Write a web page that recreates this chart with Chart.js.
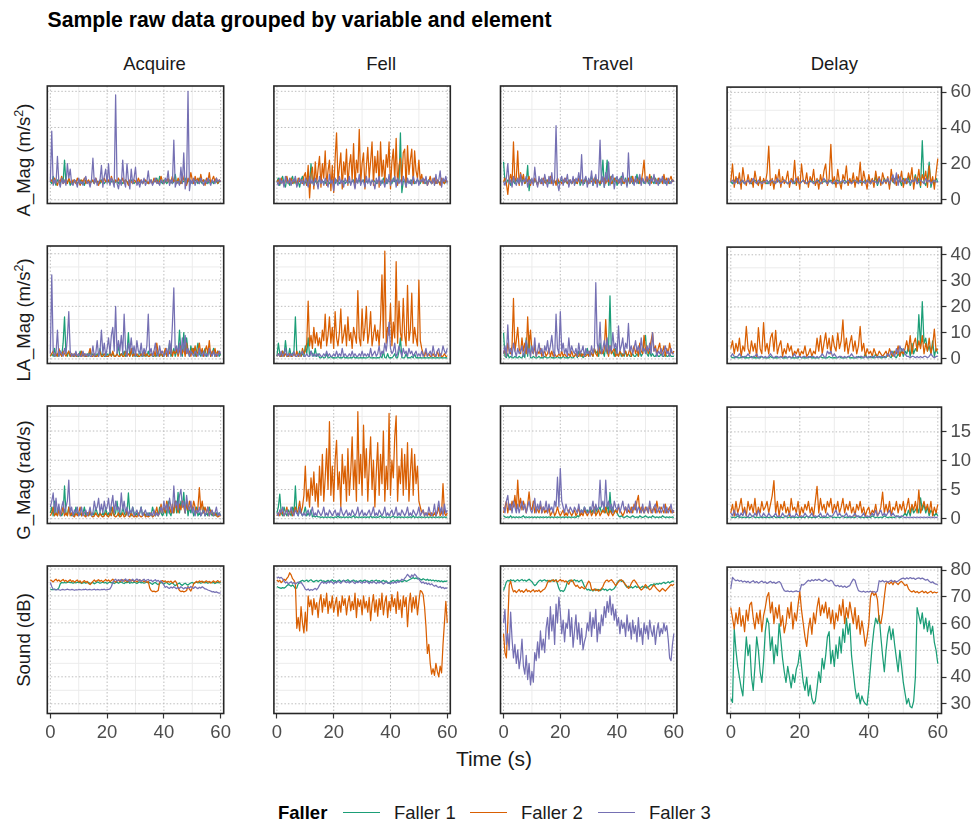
<!DOCTYPE html>
<html>
<head>
<meta charset="utf-8">
<script src="https://cdn.jsdelivr.net/npm/chart.js@4.4.0/dist/chart.umd.min.js"></script>
<style>
  body { margin: 0; background: #fff; }
  #wrap { position: relative; width: 975px; height: 820px; overflow: hidden; background: #fff;
          font-family: "Liberation Sans", Arial, Helvetica, sans-serif; }
  .t { position: absolute; line-height: 1; white-space: nowrap; color: #1a1a1a; }
  .t sup { font-size: 0.68em; line-height: 0; vertical-align: 0.55em; }
  canvas { position: absolute; }
  .swatch { position: absolute; height: 0; border-top: 1.6px solid; }
</style>
</head>
<body>
<div id="wrap"></div>
<script>
// facets
const ELEMENTS = ['Acquire', 'Fell', 'Travel', 'Delay'];
const VARIABLES = ['A_Mag', 'LA_Mag', 'G_Mag', 'Sound'];
const VARIABLE_TITLES = ['A_Mag (m/s<sup>2</sup>)', 'LA_Mag (m/s<sup>2</sup>)', 'G_Mag (rad/s)', 'Sound (dB)'];
const FALLERS = ['Faller 1', 'Faller 2', 'Faller 3'];
const FALLER_COLORS = ['#1b9e77', '#d95f02', '#7570b3'];

// axes
const X_TICKS = [0, 20, 40, 60];
const X_MINOR = [10, 30, 50];
const X_RANGE = [-1.07, 61.07];
const Y_TICKS = { A_Mag: [0, 20, 40, 60], LA_Mag: [0, 10, 20, 30, 40], G_Mag: [0, 5, 10, 15], Sound: [30, 40, 50, 60, 70, 80] };
const Y_MINOR = { A_Mag: [10, 30, 50], LA_Mag: [5, 15, 25, 35], G_Mag: [2.5, 7.5, 12.5, 17.5], Sound: [35, 45, 55, 65, 75] };
const Y_RANGE = { A_Mag: [-2.06, 62.94], LA_Mag: [-1.73, 42.95], G_Mag: [-0.82, 19.28], Sound: [26.4, 81.1] };

// samples every 0.5 s from 0 to 60 s
// A_Mag
const aMag_Acquire_F1 = [10,9,13,10,8,11,10,9,12,10,22,9,10,11,8,10,9,11,10,9,10,11,9,10,8,11,10,10,9,11,10,9,11,10,10,9,11,10,9,10,11,10,9,10,11,9,10,10,9,11,10,9,10,11,10,9,10,11,10,9,10,11,9,10,10,9,11,10,10,9,10,11,9,10,10,12,9,13,10,9,11,10,9,10,11,10,9,10,14,9,10,11,9,10,10,12,9,10,11,10,9,10,11,10,9,12,10,9,11,10,10,9,11,10,10,9,11,10,9,10,10];
const aMag_Acquire_F2 = [10,11,9,12,10,8,11,10,13,9,10,11,9,12,10,9,11,10,9,12,10,8,11,10,12,9,10,11,9,10,11,9,12,10,8,11,10,9,12,10,10,11,9,13,10,9,11,10,12,9,10,12,9,11,10,8,11,10,9,11,10,9,12,10,11,9,10,11,10,9,11,10,9,12,10,11,9,10,13,10,9,11,10,12,9,10,13,10,11,9,12,10,9,14,11,10,8,12,10,15,11,9,13,10,12,9,14,10,11,8,12,10,15,9,11,13,10,12,9,11,10];
const aMag_Acquire_F3 = [10,38,8,11,9,24,10,7,12,9,11,8,20,12,17,9,8,11,10,7,12,9,10,8,11,13,9,10,7,11,23,9,12,8,10,11,19,7,13,17,9,20,8,12,10,7,58,9,6,11,8,22,10,7,20,11,6,17,9,12,18,8,10,7,11,9,12,8,10,16,9,11,8,10,12,9,10,8,11,10,9,12,10,16,8,11,9,33,7,10,10,8,18,9,26,6,11,60,5,11,9,12,8,11,10,9,12,10,8,11,9,12,10,8,11,10,9,12,10,11,10];
const aMag_Fell_F1 = [10,12,8,11,13,9,7,12,10,8,11,13,9,12,8,10,7,11,13,9,10,8,12,9,20,10,8,11,9,10,11,9,10,10,9,11,10,9,10,11,10,9,11,10,9,10,11,10,9,10,11,10,9,10,11,9,10,10,11,9,10,11,9,10,10,11,9,10,11,10,9,10,11,10,9,12,10,9,11,10,10,9,12,10,11,9,10,37,4,10,11,9,10,10,9,11,10,9,10,11,10,9,11,10,10,9,10,11,10,9,10,11,9,10,10,9,11,10,9,10,10];
const aMag_Fell_F2 = [10,11,9,12,10,8,11,13,9,10,12,9,11,10,8,12,10,11,9,13,15,8,19,1,14,18,6,21,9,17,24,7,20,12,27,8,16,22,5,19,4,23,37,10,18,26,6,21,14,28,8,19,25,11,31,7,22,15,39,9,20,26,6,18,29,12,21,32,8,24,15,27,7,32,13,22,9,25,18,32,6,21,28,11,34,8,19,23,10,26,28,7,30,14,22,28,9,27,16,12,22,10,14,9,11,12,8,10,13,9,10,12,9,11,10,8,12,10,9,11,10];
const aMag_Fell_F3 = [10,8,12,9,11,7,13,10,9,12,8,11,10,13,7,10,12,9,11,8,12,10,7,13,9,11,8,12,10,6,13,9,11,8,12,10,7,14,9,11,5,12,10,8,13,9,11,7,12,10,9,13,8,11,10,6,12,9,14,8,11,10,7,13,9,12,8,11,10,6,12,9,13,8,11,10,7,12,9,14,8,11,10,13,7,12,9,11,8,13,10,7,12,9,11,8,13,10,9,12,8,11,10,12,9,13,8,11,10,9,12,8,14,9,11,16,7,12,10,13,9];
const aMag_Travel_F1 = [21,10,9,11,10,8,12,10,9,11,10,9,11,10,12,9,10,19,5,11,10,9,11,10,9,10,11,10,9,10,11,10,9,10,11,9,10,10,11,9,10,11,9,10,10,9,11,10,9,10,11,9,10,12,8,10,11,9,12,10,9,11,13,8,10,12,9,11,8,12,22,7,12,22,8,11,13,9,10,12,8,11,10,13,9,10,12,8,11,10,13,9,11,10,14,9,12,10,11,9,10,12,9,11,13,10,9,12,10,11,9,11,10,12,9,10,11,9,10,11,10];
const aMag_Travel_F2 = [10,12,9,3,11,14,9,32,10,12,27,8,15,11,14,9,12,10,13,8,11,9,12,10,8,11,10,9,12,10,9,11,10,13,9,10,11,8,12,10,10,9,11,10,12,9,10,11,9,10,11,10,9,12,10,11,9,10,11,10,9,11,10,10,12,9,11,10,9,11,10,12,9,11,10,13,9,10,12,10,11,9,10,12,10,9,11,10,12,9,10,13,9,11,10,12,9,10,15,22,9,12,10,14,9,11,13,10,9,12,10,11,9,14,10,12,9,11,13,10,11];
const aMag_Travel_F3 = [10,8,12,20,9,11,7,13,10,8,12,9,14,8,11,10,13,7,11,9,12,8,18,10,7,13,9,12,8,14,10,7,13,9,15,8,12,41,9,5,11,13,8,12,10,14,7,11,9,13,8,12,10,15,9,25,8,11,13,7,12,9,16,8,11,14,7,12,33,9,13,7,15,10,21,8,12,14,6,11,13,9,12,8,15,10,11,7,26,9,12,10,8,13,9,11,14,8,12,10,9,13,11,8,12,10,14,9,11,8,12,10,13,9,11,8,12,10,9,11,10];
const aMag_Delay_F1 = [10,9,11,10,10,9,11,10,9,10,11,10,9,10,11,10,9,10,10,11,10,9,10,11,10,9,10,10,11,9,10,11,10,9,10,10,11,9,10,10,9,10,11,10,9,10,10,11,10,9,10,11,9,10,10,11,9,10,11,10,9,10,11,10,9,10,11,10,9,10,10,11,9,10,11,10,9,10,11,10,12,9,11,10,13,8,11,10,9,12,10,11,8,12,10,9,13,10,11,8,12,10,9,13,8,11,10,14,9,12,7,33,10,8,12,21,7,11,9,12,10];
const aMag_Delay_F2 = [10,20,7,13,9,15,6,18,11,8,14,9,12,7,16,10,8,13,6,12,9,15,30,8,12,6,14,10,17,7,13,9,11,16,7,12,10,22,8,13,6,20,11,9,15,7,13,10,17,8,12,6,14,9,16,20,8,12,31,9,13,7,17,10,6,14,11,19,8,12,9,15,7,13,10,21,8,16,11,6,14,9,12,7,16,10,13,8,15,11,9,13,6,17,10,12,8,14,10,16,7,12,9,15,11,18,6,13,10,17,8,14,11,16,7,19,9,13,6,15,23];
const aMag_Delay_F3 = [10,11,9,10,12,9,10,11,9,10,11,9,10,12,10,9,11,10,9,10,10,11,9,10,11,10,9,12,10,9,10,11,10,9,10,11,9,10,12,10,9,10,11,10,9,10,11,10,9,10,11,10,9,10,12,10,9,11,10,9,10,11,9,10,10,11,9,10,11,10,9,10,11,10,9,11,10,10,9,11,10,9,11,10,10,9,12,10,9,11,10,12,9,11,14,9,15,8,13,10,11,9,12,10,9,11,10,12,9,10,11,10,9,12,10,11,9,10,11,10,10];

// LA_Mag
const laMag_Acquire_F1 = [1,2,1,4,1,2,1,3,1,6,16,2,1,3,1,2,1,1,2,1,1,3,1,2,1,1,2,1,3,1,2,1,1,2,1,4,1,2,1,1,2,1,3,1,2,1,1,2,5,1,2,1,3,1,2,10,1,2,4,1,2,1,1,3,1,2,1,2,1,3,1,2,1,1,2,1,3,1,2,1,1,3,1,2,6,1,2,4,1,3,2,11,3,1,10,2,8,3,1,5,2,4,1,3,6,2,1,3,2,4,1,2,3,1,2,4,1,2,3,1,2];
const laMag_Acquire_F2 = [1,2,3,1,2,1,4,2,1,3,2,1,2,3,1,2,1,2,1,1,2,1,3,1,2,1,1,2,4,1,1,2,1,1,2,3,1,1,2,1,1,1,2,1,3,1,1,2,1,1,2,1,1,3,1,2,1,4,1,2,1,2,1,1,2,1,3,1,2,1,1,2,1,3,1,6,2,1,3,1,2,4,1,3,2,5,1,3,2,4,1,3,5,2,4,1,6,2,3,1,4,2,5,1,3,6,2,4,1,3,5,2,7,1,3,2,4,1,3,2,2];
const laMag_Acquire_F3 = [2,32,3,1,2,11,1,3,2,1,4,2,8,18,3,1,2,1,3,1,2,1,1,3,1,2,1,2,1,1,5,1,2,7,1,3,11,2,6,1,4,8,2,9,12,3,20,2,7,3,9,2,17,4,1,6,3,8,2,5,1,7,3,2,6,1,4,2,5,17,2,4,1,3,6,2,1,5,2,3,1,2,4,1,7,2,13,27,3,5,2,6,1,8,3,9,2,4,1,3,2,1,3,2,1,4,2,1,3,1,2,1,4,2,1,3,1,2,1,3,2];
const laMag_Fell_F1 = [1,6,2,1,3,1,7,2,1,4,1,2,3,16,2,1,3,1,2,1,5,2,8,1,3,2,1,4,1,2,0.5,0.4,1,0.4,0.5,2,0.4,0.5,1,0.4,0.5,0.4,0.4,1,0.4,0.5,0.4,1,0.4,0.5,0.4,0.4,0.5,0.4,1,0.4,0.5,0.4,0.4,0.5,0.4,0.5,0.4,0.4,0.5,1,0.4,0.4,0.5,0.4,0.4,0.5,0.4,1,0.4,3,0.5,0.4,2,0.4,0.5,0.4,1,2,0.4,0.5,3,8,0.5,0.4,0.5,2,0.4,0.5,0.4,1,0.4,2,0.4,0.5,0.4,0.5,0.4,0.4,0.5,0.4,0.4,0.5,0.4,0.4,0.5,0.4,0.4,0.5,0.4,0.4,0.5,0.4,0.4,0.5,0.4];
const laMag_Fell_F2 = [1,2,1,1,3,1,2,1,1,2,1,1,2,1,3,1,2,1,4,2,3,6,22,5,9,4,12,6,10,5,8,4,11,7,17,5,9,16,6,12,4,18,8,5,10,19,6,9,13,5,16,7,10,4,12,9,6,26,8,5,19,7,12,20,6,10,18,5,9,13,7,11,5,15,32,8,41,6,12,9,21,5,14,8,37,6,22,10,7,23,9,5,28,7,11,25,6,12,8,5,30,7,4,2,1,3,1,2,1,1,2,1,1,3,1,2,1,1,2,1,1];
const laMag_Fell_F3 = [1,2,1,3,1,2,4,1,2,1,2,1,3,1,1,2,1,2,3,1,1,2,1,1,3,1,2,1,2,1,2,1,1,2,1,3,1,2,1,1,2,1,3,1,2,1,4,1,2,1,1,2,1,3,1,2,1,1,2,1,3,1,2,1,2,1,4,1,2,3,1,2,5,1,3,2,6,3,8,14,4,2,3,6,1,2,5,3,1,4,2,3,1,4,2,3,1,2,3,1,2,1,3,1,2,4,1,2,3,1,5,2,1,3,4,1,2,5,3,2,4];
const laMag_Travel_F1 = [10,1,0.5,2,0.4,1,0.5,0.4,1,0.5,0.4,1,0.5,0.4,2,0.5,8,1,9,0.5,0.4,1,0.5,0.4,0.5,1,0.4,0.5,0.4,1,0.5,0.4,0.5,1,0.4,0.5,0.4,0.5,1,0.4,0.5,0.4,1,0.5,0.4,0.5,0.4,1,0.5,0.4,1,2,0.5,3,1,2,0.5,1,2,4,1,3,2,1,4,2,3,1,6,2,3,1,5,2,4,24,2,3,1,4,2,1,3,1,2,1,3,1,2,1,1,2,1,1,2,1,3,1,2,6,9,2,1,3,1,2,1,1,2,1,1,2,1,1,2,1,1,2,1,1,1];
const laMag_Travel_F2 = [2,4,1,6,3,2,5,23,3,7,12,4,2,8,3,6,2,16,4,11,3,2,5,1,3,2,4,1,2,3,1,2,4,1,3,1,2,1,1,2,1,3,1,2,1,1,2,1,3,1,1,2,1,1,3,1,2,1,1,2,1,3,2,1,4,2,1,5,2,3,2,4,15,3,1,5,2,3,4,1,2,1,3,2,1,2,3,1,2,4,1,3,5,2,4,1,6,3,2,9,3,5,2,4,7,10,3,5,2,4,6,2,3,5,1,4,2,6,3,2,3];
const laMag_Travel_F3 = [2,5,1,13,2,4,1,6,3,1,4,2,3,5,1,3,7,2,4,1,5,2,8,1,3,6,2,4,1,5,3,7,2,5,9,3,1,17,4,2,18,3,6,2,4,1,8,2,5,3,2,4,1,6,2,3,5,1,4,2,3,1,5,2,4,29,6,3,14,2,4,7,3,8,2,5,3,10,4,6,2,12.6,3,5,8,2,6,4,13.5,3,5,2,4,7,3,5,2,8,3,4,2,5,3,6,2,10,3,4,1,3,2,4,1,3,5,2,3,1,4,2,2];
const laMag_Delay_F1 = [1,0.5,0.4,1,0.5,0.4,0.5,1,0.4,0.5,0.4,0.5,1,0.4,0.5,0.4,0.5,0.4,1,0.5,0.4,0.5,0.4,1,0.5,0.4,0.5,0.4,0.5,1,0.4,0.5,0.4,0.5,1,0.4,0.5,0.4,0.5,0.4,1,0.5,0.4,0.5,0.4,0.5,1,0.4,0.5,0.4,0.5,0.4,1,0.5,0.4,0.5,0.4,1,0.5,0.4,0.5,0.4,0.5,1,0.4,0.5,0.4,0.5,1,0.4,0.5,0.4,0.5,0.4,1,0.5,0.4,0.5,2,0.5,0.4,1,0.5,0.4,2,0.5,1,0.4,0.5,1,0.5,2,1,0.5,3,1,0.5,2,1,4,1,3,2,5,1,6,2,4,3,17,5,22,6,8,3,5,2,7,1,4,2];
const laMag_Delay_F2 = [4,7,2,6,3,8,1,5,3,12.5,4,2,7,3,6,1,12,4,2,14,3,6,2,8,10,3,11,2,5,7,1,4,2,6,3,5,1,3,2,4,1,3,2,5,1,2,4,1,3,2,8,3,9,2,6,10,4,8,2,9,5,3,10,4,7,15,3,8,2,6,9,3,7,2,5,12.5,3,6,1,4,2,3,1,4,2,1,3,2,1,2,3,1,4,2,1,3,2,5,1,3,2,4,7,3,9,2,6,8,3,7,4,9,2,6,3,8,2,5,11.5,3,4];
const laMag_Delay_F3 = [1,2,1,0.5,1,2,1,0.5,1,1,2,1,0.5,1,1,2,0.5,1,1,0.5,1,0.5,1,2,1,0.5,1,1,0.5,1,0.5,1,1,0.5,1,0.5,1,2,0.5,1,1,0.5,1,1,0.5,1,0.5,1,1,0.5,1,0.5,1,2,1,0.5,3,2,3,1,2,1,0.5,1,1,0.5,1,0.5,1,1,2,1,0.5,1,0.5,1,1,0.5,1,0.5,1,0.5,1,1,0.5,1,0.5,1,1,0.5,1,2,1,3,2,1,4,2,5,3,4,2,1,1,0.5,1,1,0.5,1,0.5,1,0.5,1,1,0.5,1,2,1,0.5,1,1];

// G_Mag
const gMag_Acquire_F1 = [1,2,0.5,3,1,0.5,2,1,0.5,1,5.6,1,0.5,2,1,0.5,1,0.5,2,1,0.5,1,0.5,1,2,0.5,1,0.5,1,0.5,1,0.5,2,1,0.5,1,0.5,1,0.5,2,0.5,1,0.5,2,1,0.5,1,3,0.5,1,0.5,2,1,0.5,1,4.4,1,0.5,2,1,0.5,1,0.5,1,2,0.5,1,0.5,1,0.5,1,0.5,2,1,0.5,1,0.5,2,1,0.5,1,2,0.5,3,1,0.5,2,1,3,1,4.5,1,3,2,4.5,1,3,0.5,2,1,2,0.5,1,2,0.5,1,0.5,1,2,0.5,1,0.5,2,1,0.5,1,0.5,1,0.5,1,0.5];
const gMag_Acquire_F2 = [0.5,1,2,0.5,1,0.5,1.5,0.5,1,2,0.5,1,0.5,2,0.5,1,0.5,0.3,1,0.5,1,2,0.5,1,0.5,0.3,1,0.5,1.5,0.5,0.3,0.5,1,0.5,0.3,1,0.5,0.3,0.5,1,0.5,0.3,1,0.5,2,0.5,0.3,0.5,1,0.3,0.5,1,0.3,0.5,1.5,0.5,0.3,1,0.5,0.3,0.5,0.3,1,0.5,0.3,0.5,1,0.3,0.5,0.3,0.5,1,0.3,0.5,1,2,0.5,1,2.5,1,2,1,3,1.5,2,1,2.5,1,3,2,1,2.5,1.5,3,2,1,2.5,1.5,3,2,1.5,3,2,1,2,5.3,1.5,3,1,2,1,2,0.5,1.5,1,0.5,1,0.5,0.3,0.5,0.5];
const gMag_Acquire_F3 = [2,3,4.4,1,3.5,1,2.5,0.5,2,3,1,2,3,6.6,1,2,0.5,1.5,1,2,0.5,1,2,0.5,1,1.5,0.5,1,2,0.5,1,3,1.5,2,3.5,1,2.5,1,3,1.5,2,3.5,1,2.5,4,1,3,1.5,2,1,4.4,1.5,3,1,2,0.5,1.5,1,2,0.5,1,1.5,0.5,1,2,0.5,1,1.5,0.5,1,0.5,1,0.5,1.5,0.5,1,0.5,1,2,1,3,1.5,2.5,1,3.5,2,1,5.6,2,3,1.5,4,5,2,3,1,4,2,1.5,3,1,2,0.5,1.5,1,2,0.5,1,1.5,0.5,1,2,0.5,1,1.5,0.5,1,2,0.5,1,0.5];
const gMag_Fell_F1 = [1,2,4.2,1,0.5,2,1,0.5,1.5,1,0.5,2,1,5.6,1,0.5,1.5,1,0.5,1,2,0.5,1,0.5,1.5,0.3,0.5,0.3,0.5,0.3,0.3,0.2,0.3,0.2,0.3,0.2,0.3,0.2,0.3,0.2,0.2,0.3,0.2,0.5,0.2,0.3,0.2,0.3,0.2,0.3,0.2,0.3,0.2,0.3,0.5,0.2,0.3,0.2,0.3,0.2,0.3,0.2,0.3,0.2,0.3,0.2,0.5,0.2,0.3,0.2,0.3,0.2,0.3,0.5,0.2,0.3,0.2,0.3,0.2,0.3,0.2,0.3,0.5,0.2,0.3,0.2,0.3,0.2,0.3,0.2,0.3,0.2,0.3,0.2,0.3,0.2,0.5,0.2,0.3,0.2,0.3,0.2,0.3,0.2,0.3,0.2,0.3,0.2,0.3,0.2,0.3,0.2,0.3,0.2,0.3,0.2,0.3,0.2,0.3,0.2,0.3];
const gMag_Fell_F2 = [0.5,1,0.5,1.5,1,0.5,1,2,0.5,1,1.5,0.5,1,2,1,1.5,3,1,2,4,9,3,5,2,7,4,8,3,6,2,9,4,11,3,7,12,5,16.6,4,9,3,10,13.4,5,8,2,11,6,9,3,12,4,8,14,5,10,3,18.3,6,11,4,16,7,12,3,9,14,5,10,2,8,13,4,11,6,15,3,9,5,18,4,10,7,14,17.6,3,9,6,12,4,11,5,13,3,8,12,4,11,6,9,3,2,1,1.5,0.5,1,0.5,1,0.5,1,0.5,1,0.5,1,2,0.5,1,6,1,0.5,1];
const gMag_Fell_F3 = [1,0.5,1.5,1,2,0.5,1,1.5,0.5,1,2,1,0.5,1.5,1,0.5,2,1,0.5,1,0.5,1,1.5,0.5,1,2,0.5,1,0.5,1.5,1,0.5,1,2,0.5,1,0.5,1.5,1,0.5,1,1.5,0.5,1,0.5,2,1,0.5,1,1.5,0.5,1,0.5,1.5,1,0.5,1,2,0.5,1,1.5,0.5,1,0.5,1,1.5,0.5,1,2,0.5,1,0.5,1.5,1,0.5,1,2,0.5,1,0.5,1,1.5,0.5,1,2,0.5,1,0.5,1.5,1,0.5,1,2,0.5,1,0.5,1.5,1,0.5,1,2,0.5,1,1.5,0.5,1,0.5,2,1,0.5,1,2.5,0.5,1.5,3,1,2,0.5,2.5,1,1.5];
const gMag_Travel_F1 = [0.5,0.3,0.2,0.3,0.2,0.5,0.2,0.3,0.2,0.3,0.2,0.3,0.2,0.3,0.5,0.2,0.3,0.2,0.3,0.2,0.3,0.2,0.3,0.2,0.3,0.2,0.3,0.2,0.3,0.2,0.3,0.2,0.3,0.2,0.3,0.2,0.3,0.2,0.3,0.2,0.3,0.2,0.3,0.2,0.3,0.2,0.3,0.2,0.3,0.2,0.3,0.2,0.5,0.3,1,1.5,1,2,1,1.5,1,2,1,1.5,1,2,1,1.5,2,1,1.5,2,1,2.5,1,4.5,1,2,1,1.5,1,0.5,0.3,0.5,0.3,0.2,0.3,0.5,0.3,0.2,0.3,0.5,0.3,0.2,0.3,0.2,0.5,0.3,0.2,0.3,0.5,0.3,0.2,0.3,0.2,0.5,0.3,0.2,0.3,0.2,0.3,0.2,0.5,0.3,0.2,0.3,0.2,0.3,0.2,0.3,0.2];
const gMag_Travel_F2 = [1,2,3,1,2.5,1.5,3,2,4,1.5,6.6,2,3.5,1.5,3,2,1,2.5,4.6,2,1.5,3,1,2,1.5,1,2.5,1,2,1,1.5,1,2,0.5,1,1.5,0.5,1,2,1,0.5,1,1.5,0.5,1,0.5,1.5,1,0.5,1,1.5,0.5,1,2,0.5,1,0.5,1.5,1,0.5,1,1.5,0.5,1,2,0.5,1,1.5,0.5,1,1.5,1,2,1,0.5,1.5,1,0.5,1,1.5,1,2,1.5,1,0.5,1,2,1,1.5,1,2,1,2.5,1.5,3,4,1,2,1.5,1,2,1.5,1,2.5,1,1.5,2,1,3,1.5,1,2,1.5,1,2.5,1,1.5,2,1,1.5,1];
const gMag_Travel_F3 = [2,1,3,4,1.5,2.5,1,3,2,1,2.5,1,2,3,1.5,2.5,1,2,3,1.5,1,2,3.5,1,2.5,1.5,3,1,2,1.5,3,1,2.5,1.5,2,1,3,2,7.1,2,8.6,3,2,1,2.5,1.5,1,2,1.5,1,2,1.5,1,2.5,1,1.5,1,2,1.5,1,1,2,1.5,3,1,2.5,1.5,2,6.6,2,3,1.5,6.6,2,3,1.5,2.5,1,3,2,1.5,2.5,1,2,3,1.5,2,1,2.5,1.5,1,2,1.5,3,1,2,1.5,1,2.5,1,1.5,2,1,3,1.5,1,2,2.5,1,1.5,2,1,1.5,2.5,1,2,1,1.5,2.5,1,1.5];
const gMag_Delay_F1 = [0.3,0.2,0.3,0.2,0.5,0.2,0.3,0.2,0.3,0.2,0.3,0.2,0.3,0.5,0.2,0.3,0.2,0.3,0.2,0.3,0.2,0.3,0.2,0.3,0.2,0.5,0.2,0.3,0.2,0.3,0.2,0.3,0.5,0.2,0.3,0.2,0.3,0.2,0.3,0.2,0.3,0.2,0.3,0.2,0.5,0.2,0.3,0.2,0.3,0.2,0.3,0.5,0.2,0.3,0.2,0.3,0.2,0.3,0.5,0.2,0.3,0.2,0.3,0.2,0.3,0.5,0.2,0.3,0.2,0.3,0.2,0.3,0.2,0.5,0.3,0.2,0.3,0.2,0.3,0.2,0.3,0.2,0.5,0.3,0.2,0.3,0.2,0.3,0.2,0.5,0.3,0.2,0.3,0.2,0.3,0.2,0.5,0.3,0.2,0.3,0.5,1,0.5,1.5,0.5,2,1,1.5,2,1,3.6,1.5,2.5,1,2,0.5,1.5,1,0.5,1,0.5];
const gMag_Delay_F2 = [1,2.5,0.5,3,1,2,3.5,1,2,0.5,3,1.5,2.5,1,3.5,0.5,2,1,3,1.5,2,3,1,2.5,4,6.6,1,3,0.5,2.5,1.5,3,1,2,0.5,3.5,1.5,2,1,3,0.5,2,1,2.5,1.5,3,1,2,0.5,3,5.6,1,3.5,1.5,2.5,1,3,2,3.5,1,2.5,1.5,3,1,2,3.5,1,2.5,1.5,3,1,2,0.5,2.5,1.5,3,1,2,0.5,1.5,2,0.5,1.5,1,2.5,0.5,1,2,4.6,1,2.5,1,3,0.5,2,1.5,3,1,2.5,1.5,3,1,2,3.5,1,2.5,1.5,3,1,5,1,2,3,1.5,2.5,1,3,0.5,2,1,2.5];
const gMag_Delay_F3 = [1,0.5,1.5,0.5,1,0.3,1,0.5,1.5,0.5,0.3,1,0.5,0.3,1,0.5,1.5,0.5,0.3,1,0.5,0.3,1,0.5,0.3,0.5,1,0.3,0.5,0.3,1,0.5,0.3,0.5,1,0.3,0.5,0.3,1,0.5,0.3,0.5,0.3,1,0.5,0.3,0.5,1,0.3,0.5,0.3,0.5,1,0.3,0.5,0.3,1,0.5,0.3,0.5,1,1.5,0.5,1,0.5,0.3,0.5,1,0.3,0.5,0.3,0.5,1,0.3,0.5,0.3,0.5,1,0.3,0.5,0.3,0.5,1,0.5,1.5,0.5,1,1.5,0.5,1,0.5,1,1.5,0.5,1,0.5,0.3,0.5,0.3,0.5,0.3,0.2,0.3,0.2,0.3,0.2,0.3,0.2,0.3,0.2,0.3,0.2,0.3,0.2,0.3,0.2,0.3,0.2,0.3,0.2,0.3];

// Sound
const sound_Acquire_F1 = [72.5,72.3,72.3,72.5,72.3,72.4,73,74.5,75,74.8,75,74.8,75,75.2,74.9,75,74.7,75,74.8,75.1,74.9,75,74.6,74.8,75,74.7,74.9,75,74.6,74.8,75,74.5,74.8,75.2,75,74.7,74.9,75.1,74.8,75,74.6,74.9,75.2,74.8,75,74.6,74.9,75.1,74.7,75,75.2,74.8,74.6,75,74.9,75.3,74.7,75,74.8,75.1,74.9,74.6,75,75.2,74.8,75,74.7,74.9,75.1,74.8,75,74.6,74.3,74.8,75,74.5,74.2,74.6,75,74.7,74.4,74.8,75,74.5,74.2,74.6,74.9,74.3,73.8,74.2,74.5,74.8,74.2,73.9,74.4,74.7,74.3,74,74.5,74.8,75,74.6,74.9,75.1,74.8,75,74.7,74.9,75.2,74.8,75,74.7,74.9,75.1,74.8,75,74.6,74.9,75,74.8,75];
const sound_Acquire_F2 = [76,75.6,75.2,75.8,76.2,75.5,75.9,75.3,75.7,76.1,75.4,75.8,75.2,75.6,76,75.3,75.7,75.1,75.5,75.9,75.2,75.6,74.8,75.3,75.7,75,75.4,74.6,74.2,74.8,75.4,75.9,75.3,75.7,76,75.4,75.8,75.2,75.6,76.1,75.5,75.9,75.3,75.7,76.2,75.6,75.1,75.5,75.9,75.3,75.7,76,75.4,75.8,75.2,75.6,76.1,75.5,75.9,75.3,75.7,75.2,75.6,76,75.4,75.8,75.2,75.6,75,75.4,73,72,71.6,71.8,71.5,71.7,72,75,75.4,75.7,75.2,75.6,75,75.4,75.1,75.5,74.8,75.2,75.6,74.8,73,72,71.6,71.8,71.5,71.7,72,73.5,72.5,71.8,73,74.5,75,75.4,75,75.6,75.2,75.5,74.9,75.3,75.6,75.1,75.4,74.8,75.2,75.6,75,75.3,75.7,75.1,75.4];
const sound_Acquire_F3 = [75,73.5,72.5,72.3,72.2,72.4,72.3,72.1,72.3,72.4,72.2,72.3,72.5,72.3,72.2,72.4,72.3,72.1,72.3,72.2,72.4,72.3,72.2,72.4,72.3,72.5,72.2,72.3,72.4,72.2,72.3,72.5,72.2,72.4,72.3,72.2,72.4,72.3,72.5,72.2,72.3,72.4,72.6,73.5,75,75.8,76.2,75.5,76,75.7,76.1,75.4,75.9,76.3,75.6,76,75.3,75.8,76.2,75.5,75.9,76.3,75.7,76,75.4,75.8,76.2,75.5,75.9,76.1,75.6,75.9,75.3,75.7,76,75.4,75.8,75.2,75.6,75,74,73.2,73.5,73,72.8,73.3,72.9,73.4,73,72.7,73.2,72.8,73.4,73,72.6,73.1,72.8,73.3,72.9,73.5,73.1,72.8,73.4,73,72.7,73.2,72.9,73.4,73,72.6,72.5,72.2,72,71.8,71.5,71.6,71.3,71.5,71.2,71,71.1];
const sound_Fell_F1 = [73.5,73.2,73,72.8,73.1,72.9,73.2,73.8,74.2,74,73.6,74.1,73.5,72.7,73,74.5,75.2,75.5,75.8,75.4,75.6,75.9,75.3,75.7,76,75.5,75.2,75.6,75.8,75.3,75.7,75.9,75.4,75.6,75.2,75.5,75.8,75.3,75.7,76,75.4,75.7,75.2,75.6,75.9,75.3,75.5,75.8,75.4,75.7,76,75.5,75.3,75.7,75.9,75.4,75.6,75.2,75.5,75.8,75.3,75.7,75.9,75.4,75.6,75.1,75.5,75.8,75.3,75.6,75.9,75.4,75.7,75.2,75.5,75.8,75.3,75.6,75,74.6,75.2,75.5,75.8,75.3,75.6,75.9,75.4,75.7,75.2,75.5,75.8,75.4,75.6,75.9,76.2,76.5,76.8,76.4,76.7,76.3,76.6,76.2,75.9,76.4,76.1,75.8,76.2,75.7,76,75.6,75.9,75.5,75.8,75.4,75.7,75.3,75.6,75.2,75.5,75.4,75.6];
const sound_Fell_F2 = [76,75.3,75.8,74.9,75.5,76.2,75.7,76.5,77.2,78.6,77.8,76.4,75.8,74.5,58,62,57,66,60,56.3,64,57,70,66,68.5,63,69,65,67.5,62,68,70.5,64,69,66,71,63.5,68,65.5,70,64,67,69.5,62.5,68,64,70,66.5,69,63,67.5,70,64.5,68,65,71,62,69,66,68.5,63,70,65.5,68,64,69.5,60.8,67,70.5,64,68.5,62.5,69,65,71,63,67.5,70,62,68,64.5,70.5,66,69,63.5,71.5,65,68.5,62,70,66,69.5,58.6,67,71,64,69.5,65.5,70,63,68,72,71.6,70.5,66,58.6,48.7,52,45,41,43,40.5,45,42,40,44,41.5,52,60,68,60];
const sound_Fell_F3 = [76.5,77,76.6,76.9,76.3,75.5,74.8,75.2,74.5,74.9,75.3,74.6,75,74.4,74.8,75.2,74.7,75,74.3,73.5,72.5,72.2,72.6,72,72.4,72.1,72.5,72.8,72.3,73,74,74.8,75.3,74.7,75.1,74.6,75.4,74.9,75.5,75,74.5,75.2,74.8,75.6,75.1,74.7,75.3,75.8,75.2,74.9,75.4,74.8,75.1,75.6,75,74.6,75.2,74.9,75.5,75,74.7,75.3,74.9,75.5,75.1,74.6,75.2,74.8,75.4,75,74.6,75.1,74.8,75.3,74.9,74.4,74.8,75.2,74.7,75,74.5,75,74.7,75.2,74.8,75.4,75,75.6,76.2,75.8,76.5,77.2,78,77.4,76.8,77.8,77.2,78.1,77.5,76.8,76.2,75.5,74.8,75.2,74.6,74.9,74.3,74.7,74.1,74.5,74,73.6,74,73.4,73.1,73.5,72.9,73.2,72.7,73,72.8];
const sound_Travel_F1 = [72,73.5,75.2,75.8,75.5,76,75.6,75.9,75.3,75.7,76,75.5,75.8,76.1,75.6,75.9,75.4,75.8,76.2,75.7,75.3,74.5,73.8,74.2,75,75.6,75.9,75.4,75.8,76,75.5,75.8,75.2,75.6,75.9,75.4,75.7,76,74.5,72.8,71.8,72,71.6,72.2,73.5,75.2,75.6,75.9,75.4,75.7,76,75.5,75.8,75.2,75.6,75.9,74.8,73.5,72.8,72.2,72.5,72,72.4,71.8,72.2,72.6,72,72.4,71.9,72.3,72.7,72.2,72.5,71.9,72.3,72.6,72.1,72.4,72.8,73.5,74.8,75.5,75.9,75.4,75.7,74.9,73.8,73.2,73.6,73,73.4,72.9,73.3,73.7,73.1,73.5,72.8,73.2,73.6,73,73.4,72.9,73.3,73.8,74.2,74,74.5,74.2,74.6,74.3,74.7,74.4,74.8,75.1,74.6,74.9,75.3,74.8,75.2,75.5,75.3];
const sound_Travel_F2 = [56,49,47,60,74,75.5,73,71.5,72,71.2,71.8,72.4,71.5,72,71.3,71.8,72.5,71.6,72,71.4,71.9,72.3,71.5,72,71.7,72.2,71.4,71.8,72.3,72.6,73.5,75,75.8,75.3,75.7,76,75.4,75.9,75.2,75.6,76.1,75.5,75.8,75.2,75.6,75,74.3,75.5,75.9,75.3,74.2,73.5,74,73.2,72.8,73.4,73,72.6,73.3,74.5,75.5,74.8,72.5,72.1,72.6,72,72.4,71.8,72.3,72.7,73.5,74.8,75.6,75.9,75.3,75.7,76,75.4,74.6,73.8,74.5,75.2,75.8,76,75.5,74.8,74.2,73.5,72.8,73.4,74.6,75.5,75.9,75.3,74.5,73.6,72.8,72.2,72.6,73.4,74.2,73.5,72.8,72.3,72.7,73.5,74.1,73.3,72.6,72.1,71.6,72.2,72.8,72.3,71.8,72.4,73,73.6,74.2,73.8,74.4];
const sound_Travel_F3 = [60,65,52,56,50,64,54,47,52,45,50,43,47,54,44,41,48,39,45,37,42,38,49,46,53,47,57,50,54,49,58,62,54,66,57,63,52,67,60,69.6,64,56,61,53,60,58,65,55,62,51,57,63,54,60,52,58,50,53,55,60,57,64,55,62,58,65,53,60,56,63,59,66,62,68,64,70,63,67,61,65,59,62,56,61,58,60,55,63,57,60,54,61,56,59,53,62,55,58,52,60,56,59,54,61,57,55,59,52,57,60,55,58,56,60,57,59,54,47,46,52,56];
const sound_Delay_F1 = [32,30.5,58,50,44,40,36,33,45,55,48,52,40,35,44,55,50,42,38,46,57,62,60,50,55,45,52,48,60,54,47,42,38,44,40,36,41,38,43,45,50,44,38,35,40,33,37,32,30,31,36,42,38,47,43,48,55,57,45,50,44,52,47,55,49,58,53,62,56,60,48,42,36,32,34,30,33,31,30,29.5,36,44,52,58,62,60,63,55,48,42,50,56,59,54,58,52,47,42,50,44,38,34,30,32,29,28.5,31,40,66,63,60,64,58,62,57,61,56,59,53,50,45];
const sound_Delay_F2 = [66,62,58,64,60,66,59,63,57,65,61,67,68,62,58,64,60,65,57,63,66,70,71.6,64,68,60,66,62,67,59,63,56.5,60,66,62,68,58,64,61,67,72,65,60,55,51.5,58,62,56,64,60,66,69.6,63,67,64,68,62,66,60,65,58,64,61,67,63,69,60,66,62,68,64,60,66,58,63,56,61,57,51.6,55,60,70,72,70.5,71.5,69,61,60,64,70,75,75.5,74.8,75.6,74.5,75.9,75.2,74.6,75.4,75.8,75,74.2,74.6,73,72.2,71.8,72.3,71.6,72,71.4,71.8,72.2,71.5,72,71.3,71.7,72.1,71.4,71.8,71.5,71.7];
const sound_Delay_F3 = [73,77.3,76.5,76,76.3,75.8,76.1,75.5,75.9,75.4,75.8,75.2,75.6,76,75.3,75.7,75.1,75.5,75.9,75.3,75.6,75,75.4,75.8,75.2,75.5,75,75.4,75.7,75.1,73.5,72.3,72,72.2,71.9,72.1,71.8,72,72.2,71.9,72.1,74.6,74.4,74.9,75.6,76.2,75.8,76.4,76,76.5,76.1,76.6,76.2,75.8,76.3,76.6,76.1,75.7,76.2,75.8,74.5,74,74.3,73.8,74.1,73.6,74,73.5,73.9,74.2,75.5,76.6,76.2,74,72.3,72,71.8,72.1,71.7,72,71.8,72.1,71.7,72,71.6,72.2,76,75.6,76.1,75.5,75.9,75.4,75.8,76.2,75.6,76,75.5,75.9,76.4,76.8,77,76.6,77.1,76.7,77.2,76.8,77,76.5,76.9,77.1,76.7,77,76.6,76.2,76.5,75.8,75.3,75.6,75,74.7,74.6];

const SERIES = {
  A_Mag: {
    Acquire: [aMag_Acquire_F1, aMag_Acquire_F2, aMag_Acquire_F3],
    Fell: [aMag_Fell_F1, aMag_Fell_F2, aMag_Fell_F3],
    Travel: [aMag_Travel_F1, aMag_Travel_F2, aMag_Travel_F3],
    Delay: [aMag_Delay_F1, aMag_Delay_F2, aMag_Delay_F3]
  },
  LA_Mag: {
    Acquire: [laMag_Acquire_F1, laMag_Acquire_F2, laMag_Acquire_F3],
    Fell: [laMag_Fell_F1, laMag_Fell_F2, laMag_Fell_F3],
    Travel: [laMag_Travel_F1, laMag_Travel_F2, laMag_Travel_F3],
    Delay: [laMag_Delay_F1, laMag_Delay_F2, laMag_Delay_F3]
  },
  G_Mag: {
    Acquire: [gMag_Acquire_F1, gMag_Acquire_F2, gMag_Acquire_F3],
    Fell: [gMag_Fell_F1, gMag_Fell_F2, gMag_Fell_F3],
    Travel: [gMag_Travel_F1, gMag_Travel_F2, gMag_Travel_F3],
    Delay: [gMag_Delay_F1, gMag_Delay_F2, gMag_Delay_F3]
  },
  Sound: {
    Acquire: [sound_Acquire_F1, sound_Acquire_F2, sound_Acquire_F3],
    Fell: [sound_Fell_F1, sound_Fell_F2, sound_Fell_F3],
    Travel: [sound_Travel_F1, sound_Travel_F2, sound_Travel_F3],
    Delay: [sound_Delay_F1, sound_Delay_F2, sound_Delay_F3]
  }
};

// layout (px)
const FONT = '"Liberation Sans", Arial, Helvetica, sans-serif';
const PANEL_X0 = 47.3, PANEL_DX = 226.6, PANEL_W = 214.4;
const PANEL_Y0 = 86, PANEL_DY = 160, PANEL_H = 147.5;
const M = 14, AXIS_W = 38, AXIS_H = 30;

Chart.defaults.font.family = FONT;
const wrap = document.getElementById('wrap');

function addText(html, x, y, size, opts) {
  opts = opts || {};
  const d = document.createElement('div');
  d.className = 't';
  d.innerHTML = html;
  d.style.left = x + 'px';
  d.style.top = y + 'px';
  d.style.fontSize = size + 'px';
  if (opts.bold) d.style.fontWeight = 'bold';
  if (opts.color) d.style.color = opts.color;
  let tf = opts.center ? 'translate(-50%,-50%)' : 'translateY(-50%)';
  if (opts.rotate) tf = 'translate(-50%,-50%) rotate(-90deg)';
  d.style.transform = tf;
  wrap.appendChild(d);
}

// grid lines and panel border, drawn from the chart's own scales
const panelFrame = {
  id: 'panelFrame',
  beforeDatasetsDraw(chart, args, opts) {
    const { ctx, chartArea: a, scales } = chart;
    const xs = scales.x, ys = scales.y;
    ctx.save();
    ctx.lineWidth = 1;
    const vline = v => { const p = xs.getPixelForValue(v); ctx.beginPath(); ctx.moveTo(p, a.top); ctx.lineTo(p, a.bottom); ctx.stroke(); };
    const hline = v => { const p = ys.getPixelForValue(v); ctx.beginPath(); ctx.moveTo(a.left, p); ctx.lineTo(a.right, p); ctx.stroke(); };
    ctx.strokeStyle = '#ececec';
    ctx.setLineDash([]);
    opts.xMinor.forEach(vline);
    opts.yMinor.forEach(hline);
    ctx.strokeStyle = '#bdbdbd';
    ctx.setLineDash([1.5, 2]);
    opts.xMajor.forEach(vline);
    opts.yMajor.forEach(hline);
    ctx.restore();
  },
  afterDatasetsDraw(chart) {
    const { ctx, chartArea: a } = chart;
    ctx.save();
    ctx.strokeStyle = '#262626';
    ctx.lineWidth = 1.6;
    ctx.strokeRect(a.left, a.top, a.right - a.left, a.bottom - a.top);
    ctx.restore();
  }
};

function makePanel(r, c) {
  const variable = VARIABLES[r], element = ELEMENTS[c];
  const rightCol = c === ELEMENTS.length - 1;
  const bottomRow = r === VARIABLES.length - 1;
  const pl = PANEL_X0 + c * PANEL_DX, pr = pl + PANEL_W;
  const pt = PANEL_Y0 + r * PANEL_DY, pb = pt + PANEL_H;
  const cl = Math.floor(pl) - M, ct = Math.floor(pt) - M;
  const cw = Math.ceil(pr) + M + (rightCol ? AXIS_W : 0) - cl;
  const ch = Math.ceil(pb) + M + (bottomRow ? AXIS_H : 0) - ct;

  const cv = document.createElement('canvas');
  cv.width = cw; cv.height = ch;
  cv.style.left = cl + 'px'; cv.style.top = ct + 'px';
  cv.style.width = cw + 'px'; cv.style.height = ch + 'px';
  wrap.appendChild(cv);

  const series = SERIES[variable][element];
  const datasets = series.map((vals, i) => ({
    label: FALLERS[i],
    data: vals.map((v, k) => ({ x: k * 60 / (vals.length - 1), y: v })),
    borderColor: FALLER_COLORS[i],
    borderWidth: 1.25,
    borderJoinStyle: 'round',
    pointRadius: 0,
    tension: 0,
    fill: false,
    order: FALLERS.length - i
  }));

  const tickFont = { family: FONT, size: 18.5 };
  new Chart(cv, {
    type: 'line',
    data: { datasets },
    plugins: [panelFrame],
    options: {
      responsive: false,
      animation: false,
      events: [],
      layout: {
        padding: {
          left: M + (pl - Math.floor(pl)),
          top: M + (pt - Math.floor(pt)),
          right: M + (Math.ceil(pr) - pr),
          bottom: M + (Math.ceil(pb) - pb)
        }
      },
      plugins: {
        legend: { display: false },
        tooltip: { enabled: false },
        panelFrame: { xMajor: X_TICKS, xMinor: X_MINOR, yMajor: Y_TICKS[variable], yMinor: Y_MINOR[variable] }
      },
      scales: {
        x: {
          type: 'linear',
          min: X_RANGE[0], max: X_RANGE[1],
          display: bottomRow,
          afterBuildTicks: s => { s.ticks = X_TICKS.map(v => ({ value: v })); },
          afterFit: s => { s.height = AXIS_H; },
          grid: { display: true, drawOnChartArea: false, drawTicks: true, tickLength: 5, tickColor: '#333', tickWidth: 1.2 },
          border: { display: false },
          ticks: { color: '#4d4d4d', font: tickFont, padding: 3, maxRotation: 0, autoSkip: false }
        },
        y: {
          type: 'linear',
          position: 'right',
          min: Y_RANGE[variable][0], max: Y_RANGE[variable][1],
          display: rightCol,
          afterBuildTicks: s => { s.ticks = Y_TICKS[variable].map(v => ({ value: v })); },
          afterFit: s => { s.width = AXIS_W; },
          grid: { display: true, drawOnChartArea: false, drawTicks: true, tickLength: 5, tickColor: '#333', tickWidth: 1.2 },
          border: { display: false },
          ticks: { color: '#4d4d4d', font: tickFont, padding: 4, autoSkip: false }
        }
      }
    }
  });
}

// title, strips, axis titles
addText('Sample raw data grouped by variable and element', 47.5, 20, 21.2, { bold: true, color: '#000' });
ELEMENTS.forEach((el, c) => {
  addText(el, PANEL_X0 + c * PANEL_DX + PANEL_W / 2, 64, 18.5, { center: true });
});
VARIABLE_TITLES.forEach((t, r) => {
  addText(t, 24, PANEL_Y0 + r * PANEL_DY + PANEL_H / 2, 18.5, { rotate: true });
});
addText('Time (s)', 494, 758, 21, { center: true });

for (let r = 0; r < VARIABLES.length; r++) {
  for (let c = 0; c < ELEMENTS.length; c++) makePanel(r, c);
}

// legend
const LEGEND_Y = 813;
const LEGEND_LINE_X = [343, 470, 598];
const LEGEND_LINE_W = 37;
addText('Faller', 278, LEGEND_Y, 18.5, { bold: true, color: '#000' });
FALLERS.forEach((f, i) => {
  const s = document.createElement('div');
  s.className = 'swatch';
  s.style.left = LEGEND_LINE_X[i] + 'px';
  s.style.top = (LEGEND_Y - 0.8) + 'px';
  s.style.width = LEGEND_LINE_W + 'px';
  s.style.borderTopColor = FALLER_COLORS[i];
  wrap.appendChild(s);
  addText(f, LEGEND_LINE_X[i] + LEGEND_LINE_W + 14, LEGEND_Y, 18.5);
});
</script>
</body>
</html>
